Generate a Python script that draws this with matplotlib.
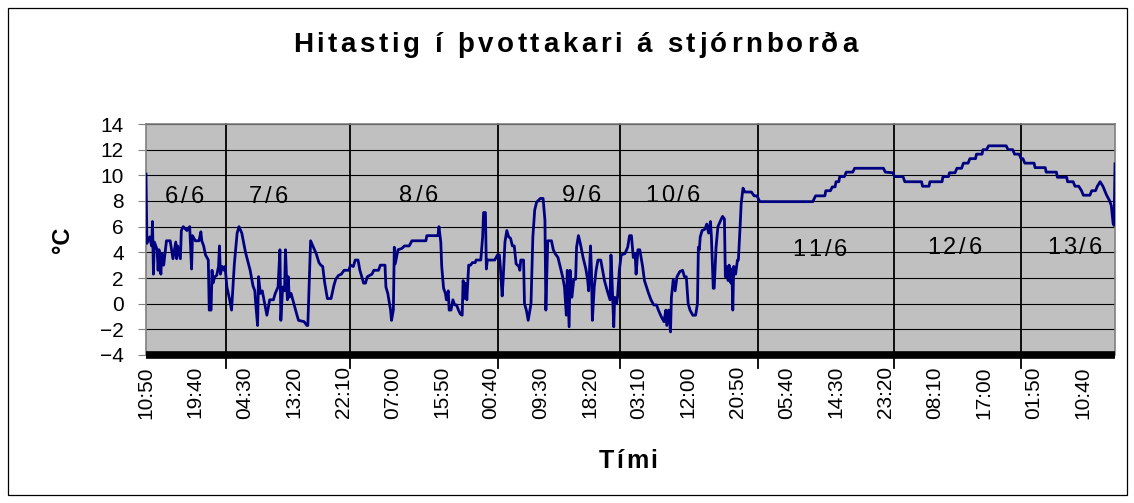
import matplotlib
matplotlib.use("Agg")
import matplotlib.pyplot as plt
from matplotlib.patches import Rectangle

plt.rcParams['font.family'] = ['Liberation Sans', 'DejaVu Sans']

# Elapsed minutes since 6/6 10:50 and temperature (°C)
minutes = [
    0, 10, 40, 60, 70, 80, 90, 120, 130, 140, 160, 170, 190, 220, 260, 290, 320, 330, 340, 370,
    380, 400, 440, 470, 490, 500, 530, 570, 590, 600, 620, 640, 670, 680, 700, 710, 720, 740, 760, 780,
    790, 800, 820, 840, 850, 870, 900, 920, 950, 980, 1000, 1030, 1070, 1120, 1150, 1170, 1180, 1200, 1210, 1230,
    1250, 1300, 1330, 1370, 1390, 1420, 1440, 1450, 1470, 1490, 1500, 1520, 1530, 1540, 1560, 1590, 1620, 1640, 1700, 1730,
    1740, 1760, 1770, 1800, 1830, 1860, 1880, 1900, 1920, 1950, 1990, 2020, 2040, 2070, 2100, 2130, 2180, 2200, 2230, 2250,
    2280, 2300, 2320, 2340, 2360, 2380, 2430, 2450, 2500, 2520, 2570, 2580, 2600, 2630, 2640, 2660, 2670, 2680, 2710, 2750,
    2780, 2830, 2860, 3010, 3020, 3140, 3150, 3170, 3180, 3200, 3220, 3230, 3250, 3260, 3280, 3300, 3320, 3340, 3360, 3380,
    3400, 3410, 3430, 3440, 3450, 3470, 3490, 3510, 3540, 3550, 3600, 3620, 3630, 3650, 3660, 3670, 3750, 3780, 3800, 3810,
    3830, 3840, 3860, 3880, 3900, 3920, 3940, 3960, 3980, 4010, 4020, 4030, 4060, 4070, 4090, 4110, 4140, 4160, 4180, 4200,
    4240, 4270, 4290, 4300, 4320, 4360, 4380, 4400, 4430, 4450, 4480, 4500, 4520, 4530, 4550, 4560, 4580, 4600, 4620, 4630,
    4650, 4670, 4700, 4730, 4750, 4760, 4780, 4790, 4800, 4820, 4840, 4860, 4890, 4910, 4930, 4960, 4990, 5000, 5010, 5030,
    5040, 5060, 5070, 5090, 5110, 5150, 5180, 5200, 5220, 5240, 5260, 5270, 5290, 5310, 5340, 5360, 5400, 5430, 5460, 5490,
    5510, 5540, 5570, 5590, 5600, 5620, 5640, 5650, 5670, 5690, 5710, 5740, 5770, 5790, 5810, 5830, 5850, 5880, 5910, 5930,
    5940, 5950, 5960, 5980, 6010, 6030, 6050, 6070, 6080, 6100, 6110, 6130, 6150, 6180, 6200, 6220, 6230, 6240, 6260, 6270,
    6290, 6300, 6310, 6320, 6340, 6360, 6370, 6390, 6400, 6420, 6440, 6510, 6540, 6570, 6600, 7170, 7180, 7200, 7300, 7310,
    7360, 7380, 7410, 7420, 7450, 7460, 7510, 7530, 7600, 7620, 7930, 7950, 8030, 8050, 8140, 8160, 8340, 8350, 8420, 8430,
    8560, 8570, 8630, 8640, 8700, 8720, 8770, 8790, 8840, 8860, 8920, 8930, 8990, 9000, 9040, 9060, 9250, 9270, 9320, 9340,
    9390, 9410, 9430, 9450, 9550, 9560, 9670, 9680, 9790, 9800, 9900, 9910, 9970, 9990, 10030, 10060, 10080, 10150, 10170, 10210,
    10230, 10260, 10290, 10310, 10330, 10360, 10380, 10400, 10410, 10420,
]
temps = [
    10.1, 4.7, 5.2, 4.5, 6.4, 2.3, 4.8, 4.2, 2.6, 4.2, 2.3, 3.9, 3.0, 4.9, 4.9, 3.5, 4.8, 3.5, 4.5, 3.5,
    5.7, 6.0, 5.7, 6.0, 2.7, 5.3, 4.9, 4.9, 5.6, 4.9, 4.5, 3.8, 3.4, -0.5, -0.5, 2.6, 1.6, 2.1, 2.2, 2.9,
    4.5, 2.3, 2.9, 2.6, 2.9, 1.3, 0.3, -0.5, 3.1, 5.5, 6.0, 5.5, 4.0, 2.6, 1.4, 1.0, 0.0, -1.7, 2.1, 0.8,
    1.0, -0.9, 0.3, 0.3, 0.8, 1.3, 4.2, -1.3, 1.3, 1.0, 4.2, 0.3, 2.1, 0.5, 0.8, 0.0, -0.8, -1.3, -1.4, -1.7,
    -1.7, 2.6, 4.9, 4.4, 3.9, 3.2, 3.0, 2.9, 1.7, 0.4, 0.4, 1.4, 1.9, 2.2, 2.3, 2.6, 2.6, 3.0, 2.9, 3.4,
    3.4, 2.6, 2.1, 1.6, 1.6, 2.1, 2.3, 2.6, 2.6, 3.0, 3.0, 1.3, 0.8, -0.5, -1.3, -0.5, 4.4, 3.1, 4.2, 4.3,
    4.5, 4.5, 4.9, 4.9, 5.3, 5.3, 6.0, 4.8, 2.9, 1.2, 0.8, 0.3, 1.0, -0.5, -0.5, 0.3, -0.1, -0.1, -0.5, -0.8,
    -0.9, 1.8, 0.4, 1.6, 0.3, 3.0, 3.0, 3.2, 3.2, 3.4, 3.4, 5.2, 7.1, 7.1, 2.7, 3.4, 3.4, 3.8, 3.8, 2.9,
    0.6, 1.8, 4.8, 5.7, 5.2, 5.1, 4.5, 4.5, 3.1, 2.9, 2.6, 3.4, 3.4, 0.0, -0.5, -1.3, 0.0, 5.2, 7.3, 7.9,
    8.2, 8.2, 6.5, -0.5, 4.9, 4.9, 4.2, 3.9, 3.6, 3.0, 2.1, 1.3, -0.9, 2.6, -1.8, 2.6, 0.5, 1.9, 1.9, 4.4,
    5.3, 4.7, 3.6, 2.7, 1.8, 1.0, 4.5, 2.6, -1.3, 1.3, 2.6, 3.4, 3.4, 2.6, 1.8, 1.0, 0.3, 3.8, 2.1, -1.8,
    0.5, 0.0, 0.5, 2.6, 3.8, 3.9, 4.4, 5.3, 5.3, 3.6, 3.9, 2.3, 4.2, 4.2, 2.9, 1.8, 0.9, 0.3, -0.1, -0.1,
    -0.5, -1.0, -1.4, -0.5, -1.7, -0.5, -2.2, 0.5, 1.9, 1.0, 2.1, 2.5, 2.6, 2.1, 2.1, 0.0, -0.5, -0.9, -0.9, 0.0,
    4.4, 4.2, 5.2, 5.7, 5.8, 6.2, 5.5, 6.4, 5.2, 1.2, 1.2, 4.4, 6.0, 6.5, 6.8, 6.6, 2.1, 2.9, 1.8, 3.0,
    1.6, 2.7, -0.5, 2.9, 2.3, 3.4, 3.4, 6.2, 7.8, 9.0, 8.7, 8.7, 8.4, 8.4, 7.95, 7.95, 8.1, 8.4, 8.4, 8.8,
    8.8, 9.1, 9.1, 9.5, 9.5, 9.9, 9.9, 10.25, 10.25, 10.55, 10.55, 10.25, 10.2, 9.9, 9.9, 9.5, 9.5, 9.15, 9.15, 9.5,
    9.5, 9.9, 9.9, 10.2, 10.2, 10.55, 10.55, 10.95, 10.95, 11.3, 11.3, 11.65, 11.65, 12.0, 12.0, 12.3, 12.3, 12.0, 12.0, 11.65,
    11.65, 11.3, 11.3, 10.95, 10.95, 10.6, 10.6, 10.25, 10.25, 9.85, 9.85, 9.5, 9.5, 9.15, 9.15, 8.8, 8.45, 8.45, 8.8, 8.8,
    9.15, 9.5, 9.15, 8.8, 8.45, 8.05, 7.65, 6.25, 6.1, 10.9,
]

tick_labels = ["10:50", "19:40", "04:30", "13:20", "22:10", "07:00", "15:50", "00:40", "09:30", "18:20",
               "03:10", "12:00", "20:50", "05:40", "14:30", "23:20", "08:10", "17:00", "01:50", "10:40"]
tick_step = 530  # minutes between labels

day_lines = [857, 2193, 3787, 5102, 6582, 8041, 9410]
day_labels = ["6/6", "7/6", "8/6", "9/6", "10/6", "11/6", "12/6", "13/6"]
day_label_x = [409, 1312, 2935, 4687, 5665, 7246, 8697, 9987]
day_label_y = [7.85, 7.85, 7.9, 7.95, 7.95, 3.74, 3.87, 3.87]   # baselines

title = "Hitastig í þvottakari á stjórnborða"

W, H = 1134, 503
fig = plt.figure(figsize=(W / 100, H / 100), dpi=100)
fig.patch.set_facecolor("white")
renderer = fig.canvas.get_renderer()


def spaced_text(cx_px, base_px_from_top, s, size, spacing, weight="normal"):
    """Draw text centred at cx_px with extra letter spacing (pixels)."""
    widths = []
    for ch in s:
        if ch == " ":
            a = fig.text(0, 0, "nn", fontsize=size, fontweight=weight)
            b = fig.text(0, 0, "n n", fontsize=size, fontweight=weight)
            w = b.get_window_extent(renderer).width - a.get_window_extent(renderer).width
            a.remove(); b.remove()
        else:
            t = fig.text(0, 0, ch, fontsize=size, fontweight=weight)
            w = t.get_window_extent(renderer).width
            t.remove()
        widths.append(w)
    total = sum(widths) + spacing * (len(s) - 1)
    x = cx_px - total / 2
    for ch, w in zip(s, widths):
        if ch != " ":
            fig.text(x / W, 1 - base_px_from_top / H, ch, fontsize=size, fontweight=weight,
                     ha="left", va="baseline")
        x += w + spacing


fig.patches.append(Rectangle((7.5 / W, 1 - 495 / H), (1127 - 7.5) / W, (495 - 7.5) / H,
                             transform=fig.transFigure, fill=False, edgecolor="black", lw=0.9))

ax = fig.add_axes([146 / W, 1 - 355 / H, (1115 - 146) / W, (355 - 124) / H])
ax.set_facecolor("#C0C0C0")

ax.set_xlim(0, 10420)
ax.set_ylim(-4, 14)
ax.set_yticks(range(-4, 15, 2))
for v in range(-2, 15, 2):
    ax.axhline(v, color="black", lw=0.8, zorder=1)

for d in day_lines:
    ax.axvline(d, ymin=-0.055, ymax=1, color="black", lw=1.3, clip_on=False, zorder=2)

ax.plot(minutes, temps, color="#000080", lw=2.0, zorder=3)

ax.set_xticks([i * tick_step for i in range(len(tick_labels))])
ax.set_xticklabels(tick_labels, rotation=90, fontsize=15)
ax.tick_params(axis="x", length=0, pad=8)
ax.tick_params(axis="y", length=6, color="#808080", labelsize=15, pad=10)

for s in ["top", "right", "left"]:
    ax.spines[s].set_color("#808080")
    ax.spines[s].set_linewidth(1.2)
ax.spines["bottom"].set_color("black")
ax.spines["bottom"].set_linewidth(5.5)
ax.spines["bottom"].set_capstyle("butt")

# Day labels (positioned in data coordinates, drawn letter-spaced)
for lbl, x, y in zip(day_labels, day_label_x, day_label_y):
    px, py = ax.transData.transform((x, y))
    spaced_text(px, H - py, lbl, 17, 3)

spaced_text(575, 52, title, 20, 3.6, weight="bold")
spaced_text(628, 468, "Tími", 18, 2.5, weight="bold")
fig.text(62 / W, 1 - 240 / H, "°C", ha="center", va="center", rotation=90,
         fontsize=17, fontweight="bold")

fig.savefig("out.png", dpi=100)
